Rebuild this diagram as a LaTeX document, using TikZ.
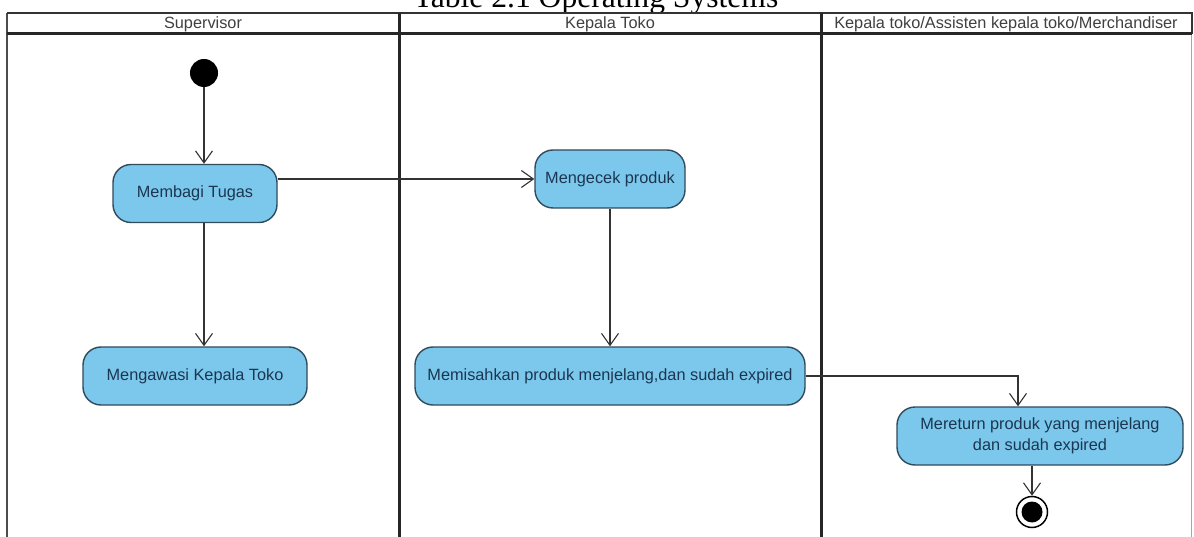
\documentclass[tikz,border=0pt]{standalone}
\usepackage{fontspec}
\setmainfont{Liberation Sans}
\newfontfamily\capfont{Liberation Serif}
\usetikzlibrary{arrows.meta,calc}
\definecolor{actfill}{HTML}{7CC8EC}
\definecolor{actdraw}{HTML}{2F4B5C}
\definecolor{acttext}{HTML}{1B3650}
\definecolor{linec}{HTML}{333333}
\begin{document}
\begin{tikzpicture}[x=1pt,y=-1pt,
  act/.style={draw=actdraw, line width=1.4pt, fill=actfill, rounded corners=18pt,
    text=acttext, font=\fontsize{16.3}{21.5}\selectfont, align=center,
    minimum height=58pt, inner sep=2pt},
  arr/.style={draw=linec, line width=1.1pt, -{Straight Barb[length=12pt,width=17pt,line width=1.1pt]}},
  lane/.style={draw=black!85, line width=3pt},
  hdr/.style={font=\fontsize{16.3}{18}\selectfont, text=black!75, inner sep=0pt}]
\useasboundingbox (0,0) rectangle (1194,537);
\clip (0,0) rectangle (1194,537);
\fill[white] (0,0) rectangle (1194,537);
% caption
\node[font=\capfont\fontsize{31.6}{34}\selectfont, anchor=base, inner sep=0pt] (cap) at (596,7.5) {Table 2.1 Operating Systems};
% swimlane frame
\draw[black!70, line width=1.4pt] (7,13) -- (7,540);
\draw[black!35, line width=1pt] (1191,34) -- (1191,540);
\draw[black!80, line width=1.5pt] (7,13) -- (1192,13) -- (1192,34);
\draw[black!85, line width=3pt] (7,34) -- (1192,34);
\draw[lane] (399,13) -- (399,540);
\draw[lane] (821,13) -- (821,540);
\node[hdr] (h1) at (203,24) {Supervisor};
\node[hdr] (h2) at (610,24) {Kepala Toko};
\node[hdr] (h3) at (1006,24) {Kepala toko/Assisten kepala toko/Merchandiser};
% nodes
\node[circle, fill=black, minimum size=28pt, inner sep=0pt] (init) at (204,73) {};
\node[act, minimum width=164pt] (mt) at (195,193.5) {Membagi Tugas};
\node[act, minimum width=224pt] (mk) at (195,376) {Mengawasi Kepala Toko};
\node[act, minimum width=150pt] (mc) at (610,179) {Mengecek produk};
\node[act, minimum width=390pt] (mp) at (610,376) {Memisahkan produk menjelang,dan sudah expired};
\node[act, minimum width=286pt] (mr) at (1040,436) {Mereturn produk yang menjelang\\dan sudah expired};
\node[circle, draw=black, line width=1.5pt, fill=white, minimum size=31pt, inner sep=0pt] (fin) at (1032,512) {};
\fill[black] (fin.center) circle (10.5pt);
\coordinate (k) at (1018,376);
% connectors
\draw[arr] (init) -- (init |- mt.north);
\draw[arr] (mt.south -| init) -- (mk.north -| init);
\draw[arr] (mt.east |- mc.west) -- (mc.west);
\draw[arr] (mc.south) -- (mp.north);
\draw[arr] (mp.east) -- (k) -- (k |- mr.north);
\draw[arr] (mr.south -| fin) -- (fin.north);
\end{tikzpicture}
\end{document}
